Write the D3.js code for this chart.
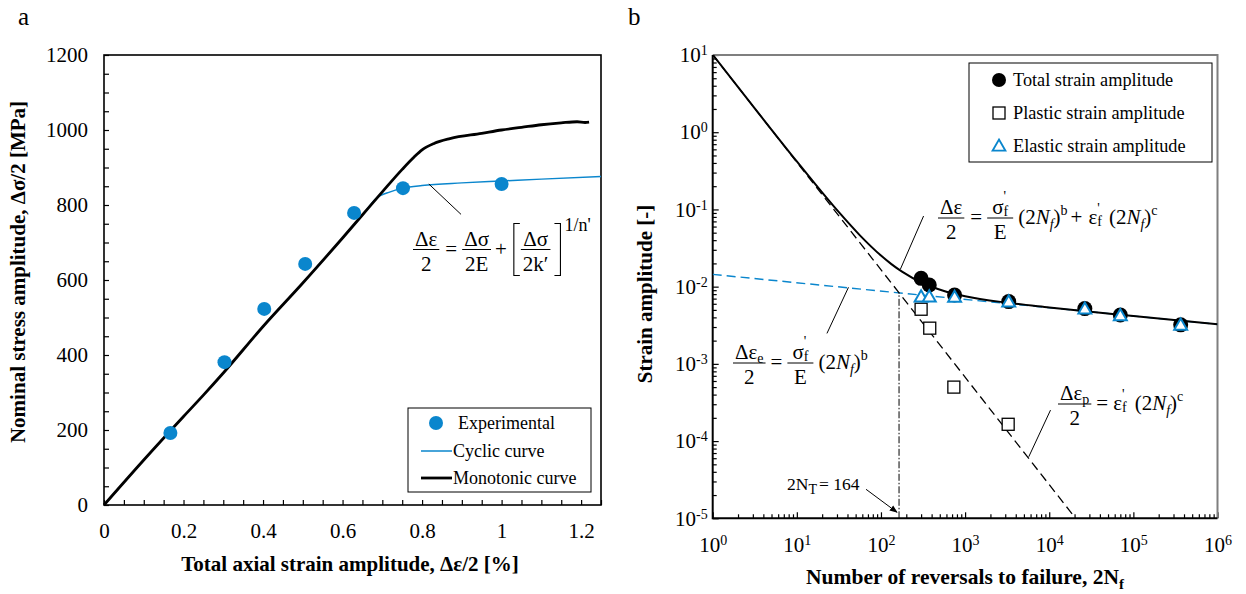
<!DOCTYPE html>
<html><head><meta charset="utf-8">
<script src="https://cdn.jsdelivr.net/npm/d3@7"></script>
<style>
body{margin:0;background:#fff}
svg{display:block}
text{font-family:"Liberation Serif","Times New Roman",serif;fill:#000}
</style></head><body>
<svg id="c" width="1246" height="594"></svg>
<script>
// ---------- Panel a data ----------
const expStrain = [0.167,0.303,0.403,0.506,0.629,0.752,1.0];
const expStress = [192,381,523,643,779,845,856];
const cyclicStrain = [0.66,0.683,0.72,0.753,0.8,0.9,1.0,1.1,1.25];
const cyclicStress = [786,816,835,845,852,859,864,869,876];
const monoStrain = [0,0.1,0.2,0.25,0.3,0.4,0.5,0.6,0.7,0.75,0.78,0.8,0.83,0.87,0.95,1.0,1.05,1.1,1.15,1.19,1.21,1.22];
const monoStress = [0,120,236,293,352,476,592,712,835,895,928,947,964,977,991,1000,1007,1014,1019,1022,1020,1021];
const xTicksA = [0,0.2,0.4,0.6,0.8,1,1.2];
const yTicksA = [0,200,400,600,800,1000,1200];
const legendA = ["Experimental","Cyclic curve","Monotonic curve"];

// ---------- Panel b data ----------
const totalCurveN = [1,3.16,10,31.6,56.2,100,133,178,316,562,1000,3162,10000,100000,1000000];
const totalCurveE = [10.09,2.04,0.419,0.0921,0.0462,0.0253,0.0196,0.01567,0.01107,0.00879,0.00752,0.00619,0.00538,0.00417,0.00325];
const elasticLineN = [1,1000000];
const elasticLineE = [0.0144,0.00325];
const plasticLineN = [1,20560];
const plasticLineE = [10.07,0.00001];
const pointN = [300,375,750,3300,26500,70000,365000];
const totalAmp = [0.0128,0.0105,0.0078,0.0064,0.0052,0.0043,0.0032];
const elasticAmp = [0.0072,0.0072,0.0071,0.0062,0.0050,0.0041,0.0031];
const plasticN = [300,380,735,3250];
const plasticAmp = [0.0051,0.0029,0.00050,0.000165];
const transitionN = 164;
const xTicksB = [1,10,100,1000,10000,100000,1000000];
const yTicksB = [1e-5,1e-4,1e-3,1e-2,1e-1,1,10];
const legendB = ["Total strain amplitude","Plastic strain amplitude","Elastic strain amplitude"];

const BLUE = "#0a86cd";
const svg = d3.select('#c');

// ---------- text helpers ----------
function run(g, x, y, pieces, size){
  for (const p of pieces){
    if (p.gap !== undefined){ x += p.gap; continue; }
    const t = g.append('text').attr('x',x).attr('y',y+(p.dy||0)).attr('font-size',p.size||size).text(p.t);
    if (p.it) t.attr('font-style','italic');
    const w = t.node().getComputedTextLength();
    let ws = 0;
    if (p.sub){
      const s = g.append('text').attr('x',x+w+(p.subdx||0)).attr('y',y+(p.subdy!==undefined?p.subdy:5)).attr('font-size',14).text(p.sub);
      if (p.subit) s.attr('font-style','italic');
      ws = Math.max(ws, s.node().getComputedTextLength()+(p.subdx||0));
    }
    if (p.sup){
      const s = g.append('text').attr('x',x+w+(p.supdx||0)).attr('y',y+(p.supdy!==undefined?p.supdy:-9)).attr('font-size',14).text(p.sup);
      ws = Math.max(ws, s.node().getComputedTextLength()+(p.supdx||0));
    }
    x += w + ws;
  }
  return x;
}
function frac(g, x, bar, num, den, size, pad){
  const gn = g.append('g'), gd = g.append('g');
  const wn = run(gn, 0, bar-4, num, size);
  const wd = run(gd, 0, bar+21, den, size);
  const w = Math.max(wn, wd) + (pad || 4);
  gn.attr('transform',`translate(${x+(w-wn)/2},0)`);
  gd.attr('transform',`translate(${x+(w-wd)/2},0)`);
  g.append('line').attr('x1',x).attr('x2',x+w).attr('y1',bar).attr('y2',bar).attr('stroke','#000').attr('stroke-width',1);
  return x + w;
}
function eq(g, x, bar, items, size){
  for (const it of items){
    if (it.gap !== undefined){ x += it.gap; continue; }
    if (it.frac){ x = frac(g, x, bar, it.frac[0], it.frac[1], size, it.pad); continue; }
    if (it.br){
      const h = 26, w = 6;
      const d = it.br==='l' ? `M${x+w},${bar-h}H${x}V${bar+h}H${x+w}` : `M${x},${bar-h}H${x+w}V${bar+h}H${x}`;
      g.append('path').attr('d',d).attr('fill','none').attr('stroke','#000').attr('stroke-width',1.1);
      x += w; continue;
    }
    x = run(g, x, bar+6, it.run, size);
  }
  return x;
}

// ================= Panel a =================
const gA = svg.append('g');
const xA = d3.scaleLinear().domain([0,1.25]).range([104,601]);
const yA = d3.scaleLinear().domain([0,1200]).range([505,55]);
const isMajor = (v, step) => Math.abs(v/step - Math.round(v/step)) < 1e-6;
const xMinorA = d3.range(0,1.2501,0.05).filter(v => !isMajor(v,0.2));
const yMinorA = d3.range(0,1201,50).filter(v => !isMajor(v,200));

function styleAxis(sel, fs){
  sel.select('.domain').remove();
  sel.selectAll('.tick line').attr('stroke','#000').attr('stroke-width',1.2);
  sel.selectAll('.tick text').attr('font-size',fs).attr('fill','#000');
}
gA.append('g').attr('transform','translate(0,505)')
  .call(d3.axisBottom(xA).tickValues(xMinorA).tickSize(-5).tickFormat(''))
  .call(s => styleAxis(s,21));
gA.append('g').attr('transform','translate(0,505)')
  .call(d3.axisBottom(xA).tickValues(xTicksA).tickSize(-5).tickPadding(18).tickFormat(d3.format('~g')))
  .call(s => styleAxis(s,21));
gA.append('g').attr('transform','translate(104,0)')
  .call(d3.axisLeft(yA).tickValues(yMinorA).tickSize(-5).tickFormat(''))
  .call(s => styleAxis(s,21));
gA.append('g').attr('transform','translate(104,0)')
  .call(d3.axisLeft(yA).tickValues(yTicksA).tickSize(-5).tickPadding(16).tickFormat(d3.format('d')))
  .call(s => styleAxis(s,21));
gA.append('rect').attr('x',xA(0)).attr('y',yA(1200)).attr('width',xA(1.25)-xA(0)).attr('height',yA(0)-yA(1200))
  .attr('fill','none').attr('stroke','#000').attr('stroke-width',1.6);

const lineA = d3.line().x(d=>xA(d[0])).y(d=>yA(d[1])).curve(d3.curveMonotoneX);
gA.append('path').datum(d3.zip(cyclicStrain,cyclicStress)).attr('d',lineA)
  .attr('fill','none').attr('stroke',BLUE).attr('stroke-width',1.5);
gA.append('path').datum(d3.zip(monoStrain,monoStress)).attr('d',lineA)
  .attr('fill','none').attr('stroke','#000').attr('stroke-width',2.8).attr('stroke-linejoin','round');
gA.selectAll('circle.exp').data(d3.zip(expStrain,expStress)).join('circle').attr('class','exp')
  .attr('cx',d=>xA(d[0])).attr('cy',d=>yA(d[1])).attr('r',7).attr('fill',BLUE);

// leader + equation a
gA.append('line').attr('x1',xA(0.817)).attr('y1',yA(856)).attr('x2',xA(0.898)).attr('y2',yA(775))
  .attr('stroke','#000').attr('stroke-width',1);
eq(gA, 413, 249.5, [
  {frac:[[{t:'Δε'}],[{t:'2'}]]}, {gap:6},
  {run:[{t:'='}]}, {gap:5},
  {frac:[[{t:'Δσ'}],[{t:'2E'}]]}, {gap:4},
  {run:[{t:'+'}]}, {gap:7},
  {br:'l'}, {gap:1},
  {frac:[[{t:'Δσ'}],[{t:'2k′'}]]}, {gap:4},
  {br:'r'}, {gap:4},
  {run:[{t:"1/n'", size:18, dy:-25}]}
], 21);

// legend a
gA.append('rect').attr('x',408).attr('y',408).attr('width',183).attr('height',84)
  .attr('fill','#fff').attr('stroke','#000').attr('stroke-width',1);
gA.append('circle').attr('cx',436).attr('cy',423).attr('r',7).attr('fill',BLUE);
gA.append('line').attr('x1',421).attr('x2',452).attr('y1',451).attr('y2',451).attr('stroke',BLUE).attr('stroke-width',1.5);
gA.append('line').attr('x1',421).attr('x2',452).attr('y1',478).attr('y2',478).attr('stroke','#000').attr('stroke-width',2.8);
gA.append('text').attr('x',458).attr('y',429).attr('font-size',18).text(legendA[0]);
gA.append('text').attr('x',453).attr('y',457).attr('font-size',18).text(legendA[1]);
gA.append('text').attr('x',453).attr('y',484).attr('font-size',18).text(legendA[2]);

// titles a
gA.append('text').attr('x',350).attr('y',571).attr('text-anchor','middle').attr('font-size',21).attr('font-weight','bold')
  .text('Total axial strain amplitude, Δε/2 [%]');
gA.append('text').attr('transform','translate(25,272) rotate(-90)').attr('text-anchor','middle').attr('font-size',21).attr('font-weight','bold')
  .text('Nominal stress amplitude, Δσ/2 [MPa]');
gA.append('text').attr('x',18).attr('y',25).attr('font-size',25).text('a');

// ================= Panel b =================
const gB = svg.append('g');
const xB = d3.scaleLog().domain([1,1e6]).range([712.7,1217.5]);
const yB = d3.scaleLog().domain([1e-5,1e1]).range([518.3,55]);
const xMinorB = [], yMinorB = [];
for (let k=0;k<6;k++) for (let m=2;m<10;m++) xMinorB.push(m*Math.pow(10,k));
for (let k=-5;k<1;k++) for (let m=2;m<10;m++) yMinorB.push(m*Math.pow(10,k));

function supLabels(sel, dyTspan){
  sel.selectAll('.tick text').each(function(d){
    const t = d3.select(this);
    t.text('10');
    t.append('tspan').attr('dy',dyTspan).attr('font-size',14).text(String(Math.round(Math.log10(d))));
  });
}
gB.append('g').attr('transform','translate(0,518.3)')
  .call(d3.axisBottom(xB).tickValues(xMinorB).tickSize(-4).tickFormat(''))
  .call(s => styleAxis(s,21));
gB.append('g').attr('transform','translate(0,518.3)')
  .call(d3.axisBottom(xB).tickValues(xTicksB).tickSize(-6).tickPadding(19).tickFormat(()=>'10'))
  .call(s => styleAxis(s,21)).call(s => supLabels(s,'-0.5em'));
gB.append('g').attr('transform','translate(712.7,0)')
  .call(d3.axisLeft(yB).tickValues(yMinorB).tickSize(-4).tickFormat(''))
  .call(s => styleAxis(s,21));
gB.append('g').attr('transform','translate(712.7,0)')
  .call(d3.axisLeft(yB).tickValues(yTicksB).tickSize(-6).tickPadding(5).tickFormat(()=>'10'))
  .call(s => styleAxis(s,21)).call(s => supLabels(s,'-0.5em'));
// frame
gB.append('path').attr('d',`M${xB(1)},${yB(1e1)}H${xB(1e6)}V${yB(1e-5)}`).attr('fill','none').attr('stroke','#7f7f7f').attr('stroke-width',2);
gB.append('path').attr('d',`M${xB(1)},${yB(1e1)}V${yB(1e-5)}H${xB(1e6)}`).attr('fill','none').attr('stroke','#000').attr('stroke-width',2);

svg.append('defs').append('clipPath').attr('id','clipB').append('rect')
  .attr('x',xB(1)).attr('y',yB(10)).attr('width',xB(1e6)-xB(1)).attr('height',yB(1e-5)-yB(10));
svg.select('defs').append('marker').attr('id','arr').attr('viewBox','0 0 10 10').attr('refX',9).attr('refY',5)
  .attr('markerWidth',8).attr('markerHeight',8).attr('orient','auto-start-reverse')
  .append('path').attr('d','M0,1L10,5L0,9Z').attr('fill','#000');

const plot = gB.append('g').attr('clip-path','url(#clipB)');
const lineB = d3.line().x(d=>xB(d[0])).y(d=>yB(d[1]));
plot.append('path').datum(d3.zip(elasticLineN,elasticLineE)).attr('d',lineB)
  .attr('fill','none').attr('stroke',BLUE).attr('stroke-width',1.4).attr('stroke-dasharray','9,5');
plot.append('path').datum(d3.zip(plasticLineN,plasticLineE)).attr('d',lineB)
  .attr('fill','none').attr('stroke','#000').attr('stroke-width',1.3).attr('stroke-dasharray','9,5');
plot.append('path').datum(d3.zip(totalCurveN,totalCurveE)).attr('d',lineB.curve(d3.curveMonotoneX))
  .attr('fill','none').attr('stroke','#000').attr('stroke-width',2);
// transition line
plot.append('line').attr('x1',xB(transitionN)).attr('x2',xB(transitionN)).attr('y1',yB(1e-5)).attr('y2',yB(0.0083))
  .attr('stroke','#000').attr('stroke-width',1).attr('stroke-dasharray','7,2,1.5,2');

// points
const triSym = d3.symbol(d3.symbolTriangle, 72);
plot.selectAll('circle.tot').data(d3.zip(pointN,totalAmp)).join('circle').attr('class','tot')
  .attr('cx',d=>xB(d[0])).attr('cy',d=>yB(d[1])).attr('r',7.5).attr('fill','#000');
plot.selectAll('rect.pl').data(d3.zip(plasticN,plasticAmp)).join('rect').attr('class','pl')
  .attr('x',d=>xB(d[0])-6).attr('y',d=>yB(d[1])-6).attr('width',12).attr('height',12)
  .attr('fill','#fff').attr('stroke','#000').attr('stroke-width',1.3);
plot.selectAll('path.el').data(d3.zip(pointN,elasticAmp)).join('path').attr('class','el')
  .attr('transform',d=>`translate(${xB(d[0])},${yB(d[1])})`).attr('d',triSym)
  .attr('fill','#fff').attr('stroke',BLUE).attr('stroke-width',2);

// leaders
const lead = (a,b) => gB.append('line').attr('x1',xB(a[0])).attr('y1',yB(a[1])).attr('x2',xB(b[0])).attr('y2',yB(b[1])).attr('stroke','#000').attr('stroke-width',1);
lead([170,0.0168],[321,0.0822]);
lead([22.8,0.00248],[41.1,0.0098]);
lead([5715,6.27e-5],[10360,2.52e-4]);
// arrow 2N_T
gB.append('line').attr('x1',xB(transitionN)-33).attr('y1',yB(1e-5)-29).attr('x2',xB(transitionN)-2).attr('y2',yB(1e-5)-6)
  .attr('stroke','#000').attr('stroke-width',1).attr('marker-end','url(#arr)');
run(gB, 787, 490, [{t:'2N', sub:'T', subdy:4},{gap:2},{t:'= 164'}], 17.5);

// equations b
eq(gB, 938, 218, [
  {frac:[[{t:'Δε'}],[{t:'2'}]]}, {gap:6},
  {run:[{t:'='}]}, {gap:5},
  {frac:[[{t:'σ', sub:'f', subdy:2, sup:"'", supdy:-13}],[{t:'E'}]], pad:10}, {gap:5},
  {run:[{t:'(2'},{t:'N', it:true, sub:'f', subit:true},{t:')', sup:'b'},{gap:3},{t:'+'},{gap:6},{t:'ε', sub:'f', subdy:2, sup:"'", supdy:-11},{gap:7},{t:'(2'},{t:'N', it:true, sub:'f', subit:true},{t:')', sup:'c'}]}
], 21);
eq(gB, 733, 363, [
  {frac:[[{t:'Δε', sub:'e', subdy:4}],[{t:'2'}]]}, {gap:5},
  {run:[{t:'='}]}, {gap:5},
  {frac:[[{t:'σ', sub:'f', subdy:2, sup:"'", supdy:-13}],[{t:'E'}]], pad:10}, {gap:5},
  {run:[{t:'(2'},{t:'N', it:true, sub:'f', subit:true},{t:')', sup:'b'}]}
], 21);
eq(gB, 1058, 404, [
  {frac:[[{t:'Δε', sub:'p', subdy:4}],[{t:'2'}]]}, {gap:5},
  {run:[{t:'='}]}, {gap:5},
  {run:[{t:'ε', sub:'f', subdy:2, sup:"'", supdy:-11},{gap:8},{t:'(2'},{t:'N', it:true, sub:'f', subit:true},{t:')', sup:'c'}]}
], 21);

// legend b
gB.append('rect').attr('x',969).attr('y',63).attr('width',243).attr('height',99)
  .attr('fill','#fff').attr('stroke','#000').attr('stroke-width',1);
gB.append('circle').attr('cx',999).attr('cy',80).attr('r',7).attr('fill','#000');
gB.append('rect').attr('x',993).attr('y',107).attr('width',12).attr('height',12).attr('fill','#fff').attr('stroke','#000').attr('stroke-width',1.3);
gB.append('path').attr('transform','translate(999,147)').attr('d',triSym).attr('fill','#fff').attr('stroke',BLUE).attr('stroke-width',1.8);
legendB.forEach((s,i) => gB.append('text').attr('x',1013).attr('y',86+i*33).attr('font-size',18.3).text(s));

// titles b
const tb = gB.append('text').attr('x',965).attr('y',584).attr('text-anchor','middle').attr('font-size',21.5).attr('font-weight','bold')
  .text('Number of reversals to failure, 2N');
tb.append('tspan').attr('dy',5).attr('font-size',15).text('f');
gB.append('text').attr('transform','translate(652,294) rotate(-90)').attr('text-anchor','middle').attr('font-size',21).attr('font-weight','bold')
  .text('Strain amplitude [-]');
gB.append('text').attr('x',628).attr('y',25).attr('font-size',25).text('b');
</script>
</body></html>
